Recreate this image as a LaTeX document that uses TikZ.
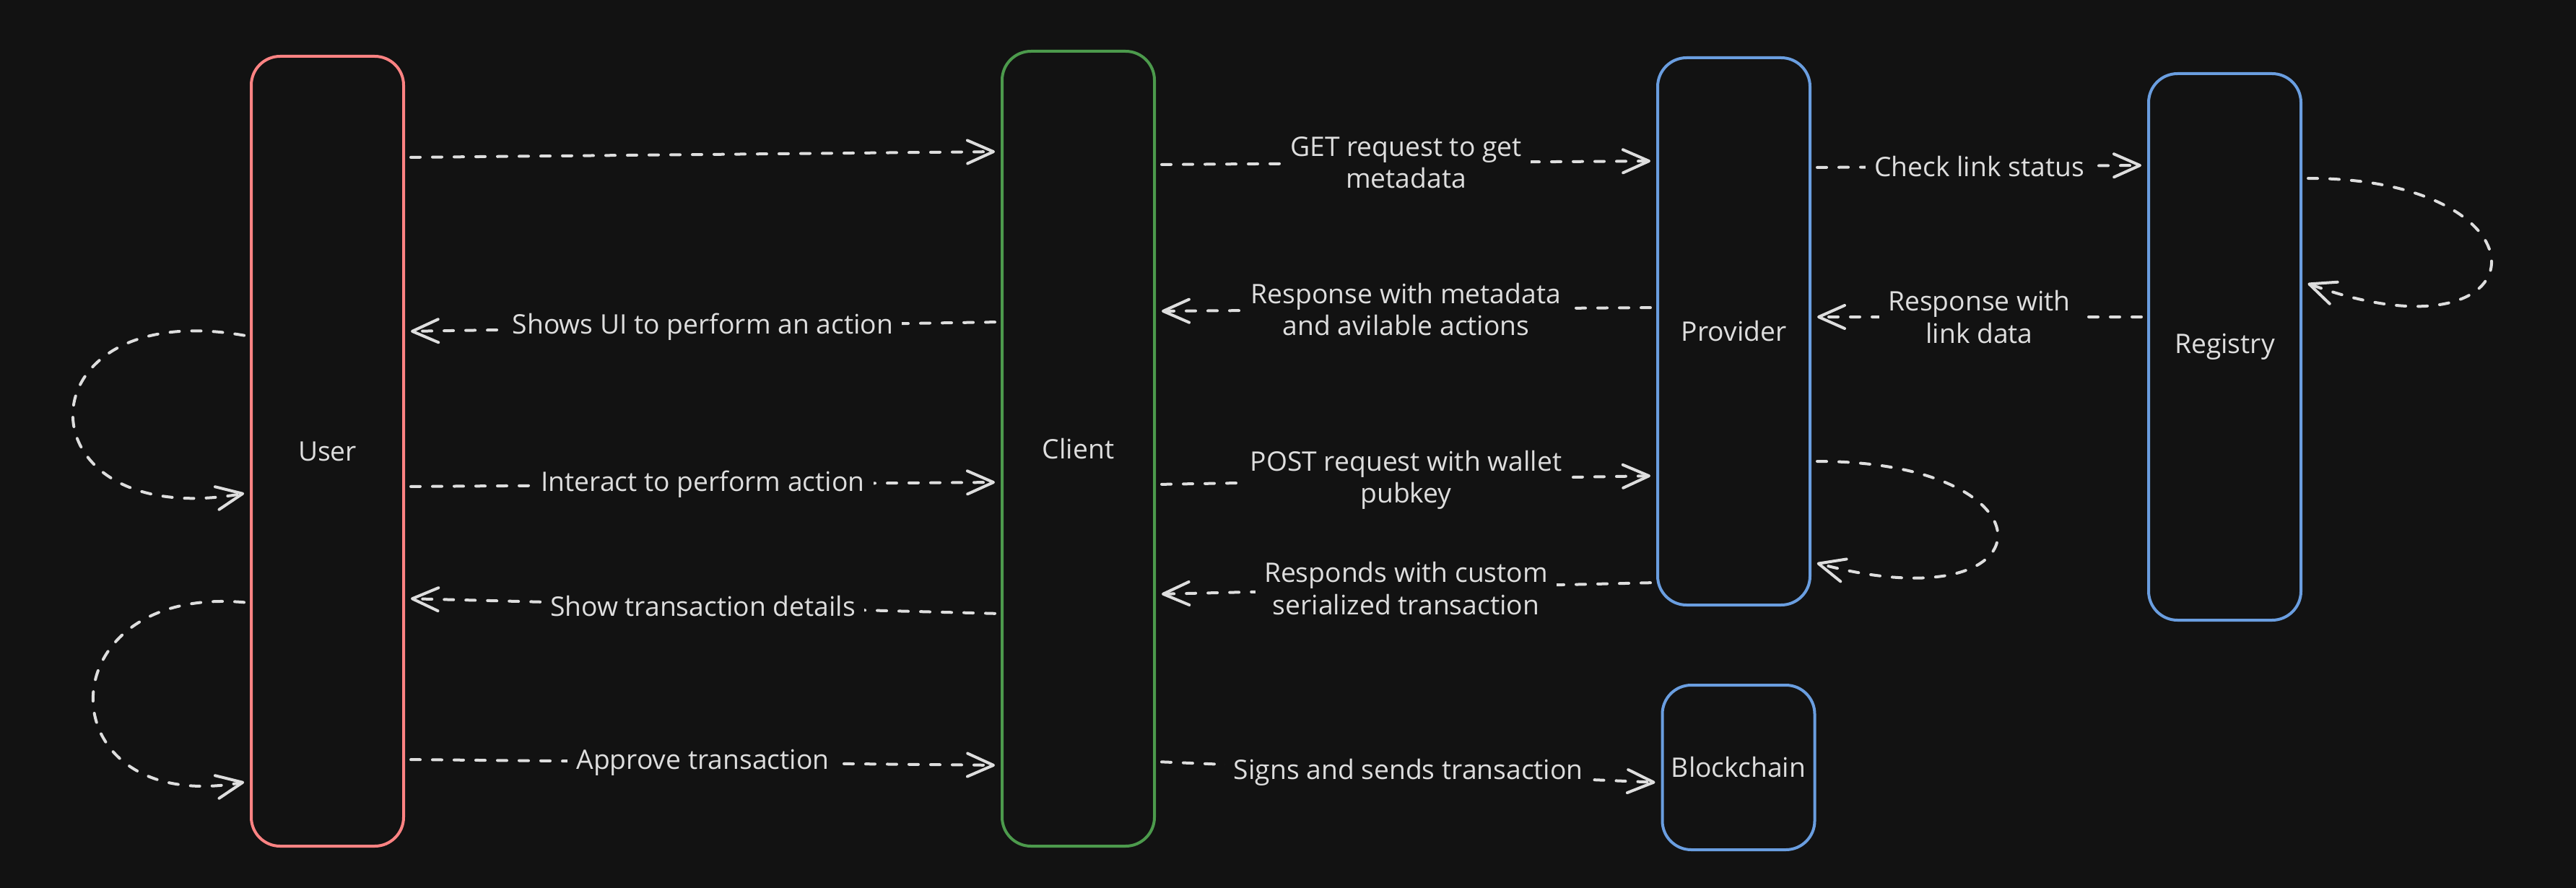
\documentclass[tikz,border=0pt]{standalone}
\usepackage{fontspec}
\setmainfont{Open Sans}
\usetikzlibrary{arrows.meta}
\definecolor{bg}{HTML}{121212}
\definecolor{ink}{HTML}{DEDEDE}
\definecolor{userred}{HTML}{FF8383}
\definecolor{clientgreen}{HTML}{4C9A4C}
\definecolor{boxblue}{HTML}{6A9EE0}

\begin{document}
\begin{tikzpicture}[font=\fontsize{10.6}{12.6}\selectfont]

      \fill[bg] (0,0) rectangle (35.68,-12.30);

      \begin{scope}[every node/.style={rectangle,draw,rounded corners=0.4cm,line width=0.04cm,fill=bg,text=ink,minimum width=2.11cm}]
        \node[draw=userred,minimum height=10.94cm]    (user)     at (4.535,-6.25)  {User};
        \node[draw=clientgreen,minimum height=11.01cm] (client)  at (14.935,-6.215) {Client};
        \node[draw=boxblue,minimum height=7.58cm]     (provider) at (24.015,-4.59)  {Provider};
        \node[draw=boxblue,minimum height=7.57cm]     (registry) at (30.815,-4.805) {Registry};
        \node[draw=boxblue,minimum height=2.28cm]     (chain)    at (24.08,-10.63)  {Blockchain};
      \end{scope}

      \begin{scope}[every node/.style={fill=bg,text=ink,align=center,inner sep=0.12cm}]

        \begin{scope}[every edge/.style={draw=ink,line width=0.04cm,line cap=round,dash pattern=on 0.13cm off 0.17cm,
            -{Straight Barb[length=0.36cm,width=0.32cm,round]},shorten >=0.08cm,shorten <=0.08cm}]
          % user <-> client
          \path ([yshift=-1.42cm]user.north east) edge ([yshift=-1.41cm]client.north west);
          \path ([yshift=-3.77cm]client.north west) edge node {Shows UI to perform an action} ([yshift=-3.83cm]user.north east);
          \path ([yshift=-5.98cm]user.north east) edge node {Interact to perform action} ([yshift=-5.99cm]client.north west);
          \path ([yshift=-7.81cm]client.north west) edge node {Show transaction details} ([yshift=-7.53cm]user.north east);
          \path ([yshift=-9.76cm]user.north east) edge node {Approve transaction} ([yshift=-9.91cm]client.north west);
          % client <-> provider, blockchain
          \path ([yshift=-1.59cm]client.north east) edge node {GET request to get\\metadata} ([yshift=-1.45cm]provider.north west);
          \path ([yshift=-3.48cm]provider.north west) edge node {Response with metadata\\and avilable actions} ([yshift=-3.62cm]client.north east);
          \path ([yshift=-6.02cm]client.north east) edge node {POST request with wallet\\pubkey} ([yshift=-5.81cm]provider.north west);
          \path ([yshift=-7.29cm]provider.north west) edge node {Responds with custom\\serialized transaction} ([yshift=-7.54cm]client.north east);
          \path ([yshift=-9.86cm]client.north east) edge node {Signs and sends transaction} ([yshift=-1.37cm]chain.north west);
          % provider <-> registry
          \path ([yshift=-1.54cm]provider.north east) edge node {Check link status} ([yshift=-1.29cm]registry.north west);
          \path ([yshift=-3.39cm]registry.north west) edge node {Response with\\link data} ([yshift=-3.61cm]provider.north east);
          % loops
          \path ([yshift=-3.90cm]user.north west) edge[out=170,in=190,looseness=3.9] ([yshift=-6.06cm]user.north west);
          \path ([yshift=-7.59cm]user.north west) edge[out=175,in=190,looseness=3.0] ([yshift=-10.06cm]user.north west);
          \path ([yshift=-5.61cm]provider.north east) edge[out=0,in=-15,looseness=6.4] ([yshift=-7.00cm]provider.north east);
          \path ([yshift=-1.47cm]registry.north east) edge[out=0,in=-20,looseness=6.4] ([yshift=-2.90cm]registry.north east);
        \end{scope}
      \end{scope}

    \end{tikzpicture}
\end{document}
